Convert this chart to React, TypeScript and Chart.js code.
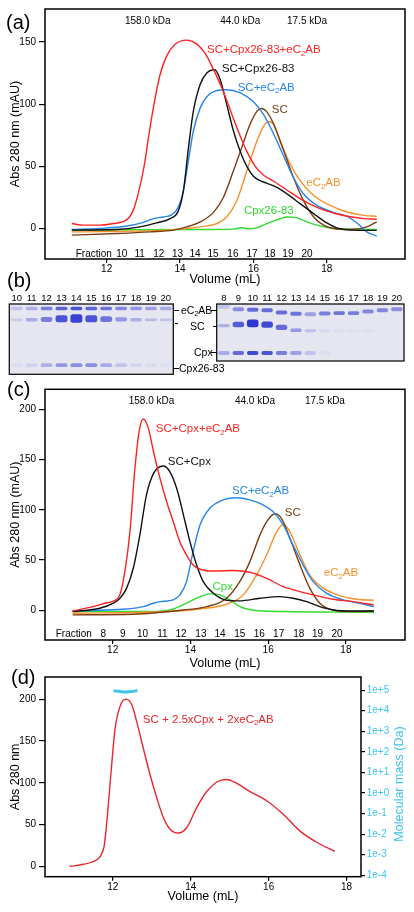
import React, { useEffect, useRef } from "react";
import { Chart, registerables } from "chart.js";

Chart.register(...registerables);

const FONT = '"Liberation Sans", Arial, Helvetica, sans-serif';

const RED = "#ff2222";
const BLACK = "#111111";
const BLUE = "#2585ea";
const BROWN = "#7d3c12";
const ORANGE = "#f8912a";
const GREEN = "#2fdc2f";
const SKY = "#3fc4ee";
const D_RED = "#e8262b";

// ---------------- Panel (a) data ----------------
const aVolumeTicks = [12, 14, 16, 18];
const aAbsTicks = [0, 50, 100, 150];
const aKdaLabels = ["158.0 kDa", "44.0 kDa", "17.5 kDa"];
const aKdaVol = [13.12, 15.64, 17.46];
const aFractions = ["10", "11", "12", "13", "14", "15", "16", "17", "18", "19", "20"];
const aFractionVol = [12.41, 12.9, 13.42, 13.93, 14.41, 14.9, 15.44, 15.96, 16.45, 16.94, 17.46];
const aSeriesNames = ["SC+Cpx26-83+eC_2AB", "SC+Cpx26-83", "SC+eC_2AB", "SC", "eC_2AB", "Cpx26-83"];
const aLabelVol = [14.735, 15.14, 15.57, 16.5, 17.44, 15.74];
const aLabelAbs = [143.5, 128.4, 113.5, 95.7, 36.4, 14];

const aRed: [number, number][] = [
  [11.05, 4], [11.36, 2.7], [11.82, 2.7], [12.18, 4], [12.45, 5.5], [12.6, 8.5], [12.73, 15], [12.86, 28],
  [13.02, 50], [13.15, 75], [13.29, 100], [13.45, 123], [13.64, 139], [13.86, 148], [14.18, 151.5],
  [14.45, 148.5], [14.68, 141], [14.91, 128], [15.14, 113], [15.36, 96], [15.59, 78], [15.82, 62],
  [16.05, 50], [16.27, 43], [16.55, 38], [16.91, 31], [17.27, 24], [17.73, 17], [18.18, 12.5],
  [18.64, 9.5], [19.0, 8], [19.36, 7.5],
];
const aBlack: [number, number][] = [
  [11.05, -1.3], [12.27, -0.8], [12.91, 1.3], [13.36, 4.5], [13.73, 8], [13.95, 14], [14.09, 30],
  [14.23, 65], [14.36, 94], [14.55, 116], [14.73, 125], [14.94, 127.6], [15.09, 120], [15.27, 100],
  [15.45, 79], [15.64, 62], [15.82, 50], [16.0, 42], [16.18, 38.5], [16.36, 36.5], [16.64, 33],
  [17.0, 26], [17.27, 20], [17.64, 12], [18.0, 4.5], [18.27, 0.5], [18.64, -1.3], [19.36, -1.5],
];
const aBlue: [number, number][] = [
  [11.05, -0.8], [11.82, 0], [12.55, 2], [13.0, 5], [13.27, 8], [13.55, 9.3], [13.77, 11], [13.95, 17],
  [14.09, 30], [14.23, 55], [14.36, 78], [14.55, 97], [14.73, 106], [14.95, 110.5], [15.27, 111.6],
  [15.64, 109], [16.0, 102], [16.27, 92], [16.55, 76], [16.82, 58.5], [17.09, 41], [17.36, 28],
  [17.73, 18.6], [18.18, 13], [18.55, 9.8], [18.82, 4.5], [19.09, -2.7], [19.36, -6],
];
const aBrown: [number, number][] = [
  [11.05, -5.3], [12.27, -4], [13.18, -2.7], [13.82, -1.3], [14.18, 1.3], [14.55, 5.3], [14.91, 13],
  [15.18, 25], [15.45, 46], [15.68, 65], [15.91, 84], [16.09, 94], [16.21, 96.5], [16.36, 94],
  [16.55, 84], [16.82, 63], [17.09, 41], [17.36, 22.6], [17.64, 9.3], [17.91, 2.7], [18.18, 0],
  [18.64, -0.8], [19.09, 1.3], [19.36, 5.3],
];
const aOrange: [number, number][] = [
  [11.05, -2.7], [13.64, -1.3], [14.55, 1.3], [15.0, 4], [15.27, 9.3], [15.55, 22.6], [15.82, 46.5],
  [16.09, 70], [16.27, 82], [16.41, 86], [16.55, 83.7], [16.73, 70], [17.0, 52], [17.27, 38.5],
  [17.64, 26.6], [18.09, 18.6], [18.55, 13.3], [19.0, 10.6], [19.36, 9.8],
];
const aGreen: [number, number][] = [
  [11.05, -1.3], [12.73, -1], [14.55, -0.8], [15.45, -0.5], [15.68, 0.6], [15.86, -0.2], [16.09, 0.5],
  [16.36, 4], [16.64, 7], [16.91, 9.3], [17.14, 9], [17.36, 6.5], [17.73, 2.7], [18.18, 0], [19.36, -0.8],
];

// ---------------- Panel (b) gel data ----------------
const gel1Lanes = ["10", "11", "12", "13", "14", "15", "16", "17", "18", "19", "20"];
const gel1EcPos = [6.5, 6.5, 6.5, 6.5, 6.5, 6.5, 6.5, 6.5, 6.5, 6.5, 6.5];
const gel1EcInt = [0.2, 0.3, 0.6, 0.75, 0.85, 0.75, 0.65, 0.55, 0.45, 0.4, 0.35];
const gel1ScPos = [22.5, 22.5, 22, 21, 20.5, 21, 21.5, 22, 22.5, 22.5, 22.5];
const gel1ScSize = [4, 5, 7, 10, 12, 10, 8, 6, 5, 4, 4];
const gel1ScInt = [0.15, 0.35, 0.6, 0.85, 0.95, 0.85, 0.65, 0.45, 0.3, 0.25, 0.2];
const gel1CpPos = [87, 87, 87, 87, 87, 87, 87, 87, 87, 87, 87];
const gel1CpInt = [0.05, 0.12, 0.3, 0.45, 0.5, 0.5, 0.35, 0.2, 0.1, 0.06, 0.03];

const gel2Lanes = ["8", "9", "10", "11", "12", "13", "14", "15", "16", "17", "18", "19", "20"];
const gel2EcPos = [5, 9, 10, 11, 15, 17, 18, 16.5, 16, 16, 13, 11, 9];
const gel2EcInt = [0.2, 0.5, 0.7, 0.7, 0.7, 0.65, 0.4, 0.6, 0.65, 0.6, 0.55, 0.55, 0.5];
const gel2ScPos = [38, 36, 34, 36, 41, 46, 47, 47, 47, 47, 47, 47, 47];
const gel2ScSize = [6, 10, 14, 11, 9, 6, 6, 5, 5, 5, 5, 5, 5];
const gel2ScInt = [0.3, 0.8, 1.0, 0.9, 0.7, 0.45, 0.2, 0.08, 0.05, 0.04, 0.03, 0, 0];
const gel2CpPos = [86, 86, 86, 86, 86, 86, 86, 86, 86, 86, 86, 86, 86];
const gel2CpInt = [0.35, 0.7, 0.9, 0.85, 0.6, 0.4, 0.2, 0.05, 0, 0, 0, 0, 0];

// ---------------- Panel (c) data ----------------
const cVolumeTicks = [12, 14, 16, 18];
const cAbsTicks = [0, 50, 100, 150, 200];
const cKdaVol = [13.0, 15.66, 17.46];
const cFractions = ["8", "9", "10", "11", "12", "13", "14", "15", "16", "17", "18", "19", "20"];
const cFractionVol = [11.76, 12.26, 12.77, 13.28, 13.76, 14.27, 14.76, 15.27, 15.77, 16.27, 16.79, 17.27, 17.77];
const cSeriesNames = ["SC+Cpx+eC_2AB", "SC+Cpx", "SC+eC_2AB", "SC", "eC_2AB", "Cpx"];
const cLabelVol = [13.11, 13.42, 15.07, 16.43, 17.43, 14.57];
const cLabelAbs = [180.4, 147.9, 118.7, 97.1, 36.8, 22.9];

const cRed: [number, number][] = [
  [10.97, -0.7], [11.5, 3.6], [11.85, 7.5], [12.02, 9], [12.19, 16], [12.32, 40], [12.45, 80], [12.57, 140],
  [12.69, 180], [12.79, 190.4], [12.92, 181], [13.05, 158], [13.22, 131], [13.39, 108], [13.56, 88],
  [13.73, 68], [13.9, 55], [14.07, 45], [14.25, 40.8], [14.59, 39], [15.1, 39.5], [15.53, 37.8],
  [15.96, 31.8], [16.39, 23.5], [16.82, 18.6], [17.24, 14.6], [17.67, 11], [18.19, 8.6], [18.72, 5.3],
];
const cBlack: [number, number][] = [
  [10.97, -1.3], [11.67, 2], [12.02, 7], [12.19, 12], [12.36, 22], [12.53, 41.8], [12.7, 75], [12.87, 114.8],
  [13.05, 136], [13.3, 143.6], [13.47, 138], [13.65, 121], [13.82, 95], [13.99, 68], [14.16, 45],
  [14.33, 28.5], [14.59, 17], [14.93, 10], [15.27, 9.3], [15.79, 12], [16.3, 13.6], [16.64, 12],
  [16.99, 8.6], [17.33, 3.6], [17.67, 0.3], [18.19, -0.7], [18.72, -0.7],
];
const cBlue: [number, number][] = [
  [10.97, -0.7], [11.67, 0], [12.36, 1.3], [12.79, 3.6], [13.05, 7], [13.22, 8.6], [13.56, 10.3],
  [13.73, 15.3], [13.9, 28.5], [14.07, 58.4], [14.25, 85], [14.5, 101.5], [14.84, 109.8], [15.19, 112],
  [15.53, 109.8], [15.87, 104.8], [16.13, 98], [16.39, 85], [16.64, 65], [16.9, 45], [17.16, 28.5],
  [17.5, 17], [17.93, 10.3], [18.36, 7], [18.72, 3.6],
];
const cBrown: [number, number][] = [
  [10.97, -4.6], [12.53, -4], [13.82, 0.3], [14.42, 3.6], [14.93, 12], [15.27, 28.5], [15.53, 48.4],
  [15.79, 75], [15.96, 88], [16.17, 96], [16.34, 91.5], [16.56, 71.6], [16.82, 45], [17.07, 22],
  [17.33, 7], [17.67, 0.3], [18.19, -1.3], [18.72, -0.7],
];
const cOrange: [number, number][] = [
  [10.97, -3], [13.39, -1.3], [14.25, 1.3], [14.93, 6], [15.36, 15.3], [15.7, 35], [15.96, 55], [16.22, 78],
  [16.39, 85.6], [16.56, 78], [16.82, 55], [17.07, 35], [17.42, 22], [17.84, 14.6], [18.27, 11], [18.72, 10],
];
const cGreen: [number, number][] = [
  [10.97, -1.3], [12.96, -1.3], [13.56, 1.3], [13.9, 7], [14.25, 13.6], [14.5, 16.3], [14.76, 15.3],
  [15.02, 10.3], [15.27, 3.6], [15.62, 0], [16.39, -1.3], [18.72, -2],
];

// ---------------- Panel (d) data ----------------
const dVolumeTicks = [12, 14, 16, 18];
const dAbsTicks = [0, 50, 100, 150, 200];
const dMassTicks = [1e-4, 1e-3, 1e-2, 1e-1, 1e0, 1e1, 1e2, 1e3, 1e4, 1e5];
const dSeriesName = "SC + 2.5xCpx + 2xeC_2AB";
const dLabelVol = 12.77;
const dLabelAbs = 175.6;
const dRed: [number, number][] = [
  [10.89, 0], [11.25, 2.7], [11.59, 8], [11.69, 13], [11.78, 25], [11.86, 60], [11.95, 110], [12.06, 165],
  [12.19, 192], [12.34, 200], [12.49, 193], [12.62, 172], [12.79, 140], [12.96, 109], [13.13, 81.8],
  [13.3, 58.3], [13.47, 44.6], [13.68, 40], [13.9, 46.6], [14.15, 70], [14.41, 89.6], [14.67, 101],
  [14.92, 104], [15.18, 99.4], [15.52, 89.6], [15.95, 78.6], [16.38, 62.2], [16.8, 42.6], [17.23, 29],
  [17.7, 18],
];
const dMass: [number, number][] = [[12.02, 93000], [12.19, 85000], [12.34, 81000], [12.49, 85000], [12.63, 96000]];

// ---------------- helpers ----------------
const TICK_SIZE = 10;

function drawRich(ctx: any, text: string, x: number, y: number, size: number, color: string, align: string, rot: number) {
  const parts = text.split(/_(\d)/);
  ctx.save();
  ctx.translate(x, y);
  if (rot) ctx.rotate((rot * Math.PI) / 180);
  ctx.fillStyle = color;
  ctx.textBaseline = "middle";
  ctx.textAlign = "left";
  const fN = `${size}px ${FONT}`;
  const fS = `${(size * 0.68).toFixed(1)}px ${FONT}`;
  let w = 0;
  parts.forEach((p, i) => {
    ctx.font = i % 2 ? fS : fN;
    w += ctx.measureText(p).width;
  });
  let cx = align === "center" ? -w / 2 : align === "right" ? -w : 0;
  parts.forEach((p, i) => {
    ctx.font = i % 2 ? fS : fN;
    ctx.fillText(p, cx, i % 2 ? size * 0.32 : 0);
    cx += ctx.measureText(p).width;
  });
  ctx.restore();
}

function makeAnnot(items: any[]) {
  return {
    id: "annot",
    afterDatasetsDraw(chart: any) {
      const ctx = chart.ctx;
      const a = chart.chartArea;
      for (const it of items) {
        let px: number;
        let py: number;
        if (it.mode === "px") {
          px = it.x;
          py = it.y;
        } else {
          px = chart.scales[it.xScale || "x"].getPixelForValue(it.x);
          if (it.mode === "top") py = a.top + it.y;
          else if (it.mode === "bottom") py = a.bottom + it.y;
          else py = chart.scales[it.yScale || "y"].getPixelForValue(it.y);
        }
        drawRich(ctx, it.text, px, py, it.size || 10, it.color || "#000", it.align || "left", it.rot || 0);
      }
    },
  };
}

const boxPlugin = {
  id: "box",
  afterDraw(chart: any) {
    const { ctx, chartArea: a } = chart;
    ctx.save();
    ctx.strokeStyle = "#000";
    ctx.lineWidth = 1.5;
    ctx.strokeRect(a.left, a.top, a.right - a.left, a.bottom - a.top);
    ctx.restore();
  },
};

const gelPlugin = {
  id: "gel",
  beforeDatasetsDraw(chart: any) {
    const { ctx, chartArea: a } = chart;
    ctx.save();
    ctx.fillStyle = "#e6e6f1";
    ctx.fillRect(a.left, a.top, a.right - a.left, a.bottom - a.top);
    ctx.restore();
    ctx.save();
    ctx.filter = "blur(0.7px)";
  },
  afterDatasetsDraw(chart: any) {
    chart.ctx.restore();
  },
  afterDraw(chart: any) {
    const { ctx, chartArea: a } = chart;
    ctx.save();
    ctx.strokeStyle = "#111";
    ctx.lineWidth = 1.3;
    ctx.strokeRect(a.left, a.top, a.right - a.left, a.bottom - a.top);
    ctx.restore();
  },
};

function line(pts: [number, number][], color: string, width = 1.4, yAxisID = "y") {
  return {
    data: pts.map(([x, y]) => ({ x, y })),
    borderColor: color,
    backgroundColor: color,
    borderWidth: width,
    pointRadius: 0,
    cubicInterpolationMode: "monotone",
    fill: false,
    yAxisID,
  };
}

function xAxis(min: number, max: number, ticks: number[], height: number, titlePad: number) {
  return {
    type: "linear",
    position: "bottom",
    min,
    max,
    afterBuildTicks: (s: any) => {
      s.ticks = ticks.map((v) => ({ value: v }));
    },
    afterFit: (s: any) => {
      s.height = height;
    },
    grid: { display: true, drawOnChartArea: false, drawTicks: true, tickLength: 4, color: "#000", lineWidth: 1.2 },
    border: { display: false },
    ticks: {
      color: "#000",
      font: { family: FONT, size: TICK_SIZE },
      padding: 0.5,
      maxRotation: 0,
      autoSkip: false,
      callback: (v: any) => String(v),
    },
    title: {
      display: true,
      text: "Volume (mL)",
      color: "#000",
      font: { family: FONT, size: 12.5 },
      padding: { top: 0, bottom: titlePad },
    },
  };
}

function yAxis(min: number, max: number, ticks: number[], title: string, titlePad: number) {
  return {
    type: "linear",
    position: "left",
    min,
    max,
    afterBuildTicks: (s: any) => {
      s.ticks = ticks.map((v) => ({ value: v }));
    },
    afterFit: (s: any) => {
      s.width = 45;
    },
    grid: { display: true, drawOnChartArea: false, drawTicks: true, tickLength: 6, color: "#000", lineWidth: 1.2 },
    border: { display: false },
    ticks: { color: "#000", font: { family: FONT, size: TICK_SIZE }, padding: 3, callback: (v: any) => String(v) },
    title: {
      display: true,
      text: title,
      color: "#000",
      font: { family: FONT, size: 12.5 },
      padding: { top: titlePad, bottom: 0 },
    },
  };
}

function lineConfig(datasets: any[], scales: any, padding: any, items: any[]) {
  return {
    type: "line",
    data: { datasets },
    options: {
      animation: false,
      responsive: false,
      devicePixelRatio: 1,
      layout: { padding },
      plugins: { legend: { display: false }, tooltip: { enabled: false } },
      scales,
    },
    plugins: [boxPlugin, makeAnnot(items)],
  };
}

function bandColor(a: number) {
  return `rgba(46, 56, 206, ${a})`;
}

function gelBand(pos: number[], size: number[], intens: number[]) {
  return {
    data: pos.map((p, i) => [p - size[i] / 2, p + size[i] / 2]),
    backgroundColor: intens.map(bandColor),
    borderWidth: 0,
    borderRadius: 2.5,
    borderSkipped: false,
    grouped: false,
    categoryPercentage: 0.8,
    barPercentage: 1,
  };
}

function gelConfig(lanes: string[], datasets: any[], padding: any) {
  return {
    type: "bar",
    data: { labels: lanes, datasets },
    options: {
      animation: false,
      responsive: false,
      devicePixelRatio: 1,
      layout: { padding },
      plugins: { legend: { display: false }, tooltip: { enabled: false } },
      scales: {
        x: {
          position: "top",
          grid: { display: false, drawTicks: false },
          border: { display: false },
          ticks: { color: "#000", font: { family: FONT, size: 9.5 }, padding: 0, maxRotation: 0, autoSkip: false },
          afterFit: (s: any) => {
            s.height = 15;
          },
        },
        y: { display: false, min: 0, max: 100, reverse: true },
      },
    },
    plugins: [gelPlugin],
  };
}

function commonItems(kdaVol: number[], kdaTop: number, fracWordVol: number, fractions: string[], fracVol: number[], fracOff: number) {
  const items: any[] = [];
  aKdaLabels.forEach((t, i) => items.push({ text: t, x: kdaVol[i], y: kdaTop, mode: "top", size: 10, align: "center" }));
  items.push({ text: "Fraction", x: fracWordVol, y: fracOff, mode: "bottom", size: 10, align: "center" });
  fractions.forEach((t, i) => items.push({ text: t, x: fracVol[i], y: fracOff, mode: "bottom", size: 10, align: "center" }));
  return items;
}

const SERIES_COLORS = [RED, BLACK, BLUE, BROWN, ORANGE, GREEN];

function buildA() {
  const items = commonItems(aKdaVol, 12, 11.65, aFractions, aFractionVol, -5);
  aSeriesNames.forEach((n, i) =>
    items.push({ text: n, x: aLabelVol[i], y: aLabelAbs[i], size: 11.5, color: SERIES_COLORS[i], align: "left" })
  );
  return lineConfig(
    [line(aRed, RED), line(aBlack, BLACK), line(aBlue, BLUE), line(aBrown, BROWN), line(aOrange, ORANGE), line(aGreen, GREEN)],
    { x: xAxis(10.32, 20.13, aVolumeTicks, 31, 2.5), y: yAxis(-24.5, 176.5, aAbsTicks, "Abs 280 nm (mAU)", 8.5) },
    { left: 0, right: 9, top: 7, bottom: 0 },
    items
  );
}

function buildC() {
  const items = commonItems(cKdaVol, 12.4, 11.0, cFractions, cFractionVol, -6);
  cSeriesNames.forEach((n, i) =>
    items.push({ text: n, x: cLabelVol[i], y: cLabelAbs[i], size: 11.5, color: SERIES_COLORS[i], align: "left" })
  );
  return lineConfig(
    [line(cRed, RED), line(cBlack, BLACK), line(cBlue, BLUE), line(cBrown, BROWN), line(cOrange, ORANGE), line(cGreen, GREEN)],
    { x: xAxis(10.26, 19.52, cVolumeTicks, 33, 1.5), y: yAxis(-29.6, 219.9, cAbsTicks, "Abs 280 nm (mAU)", 8.5) },
    { left: 0, right: 9, top: 14.3, bottom: 0 },
    items
  );
}

function fmtExp(v: number) {
  const e = Math.round(Math.log10(v));
  return "1e" + (e >= 0 ? "+" : "-") + Math.abs(e);
}

function buildD() {
  const items = [
    { text: dSeriesName, x: dLabelVol, y: dLabelAbs, size: 11.5, color: D_RED, align: "left" },
    { text: "Molecular mass (Da)", x: 400, y: 116, mode: "px", size: 12.5, color: SKY, align: "center", rot: -90 },
  ];
  const y2 = {
    type: "logarithmic",
    position: "right",
    min: 8.57e-5,
    max: 4.35e5,
    afterBuildTicks: (s: any) => {
      s.ticks = dMassTicks.map((v) => ({ value: v }));
    },
    afterFit: (s: any) => {
      s.width = 53;
    },
    grid: { display: true, drawOnChartArea: false, drawTicks: true, tickLength: 4, color: "#000", lineWidth: 1.2 },
    border: { display: false },
    ticks: { color: SKY, font: { family: FONT, size: TICK_SIZE }, padding: 1.7, callback: (v: any) => fmtExp(Number(v)) },
  };
  return lineConfig(
    [line(dRed, D_RED, 1.4), line(dMass, SKY, 3, "y2")],
    {
      x: xAxis(10.26, 18.37, dVolumeTicks, 35.3, 7.5),
      y: yAxis(-12.2, 226.5, dAbsTicks, "Abs 280 nm", 8.5),
      y2,
    },
    { left: 0, right: 0, top: 5.3, bottom: 0 },
    items
  );
}

function buildGel1() {
  return gelConfig(
    gel1Lanes,
    [
      gelBand(gel1EcPos, gel1Lanes.map(() => 5), gel1EcInt),
      gelBand(gel1ScPos, gel1ScSize, gel1ScInt),
      gelBand(gel1CpPos, gel1Lanes.map(() => 5.5), gel1CpInt),
    ],
    { left: 9.3, right: 6.7, top: 0, bottom: 4.7 }
  );
}

function buildGel2() {
  return gelConfig(
    gel2Lanes,
    [
      gelBand(gel2EcPos, gel2Lanes.map(() => 7), gel2EcInt),
      gelBand(gel2ScPos, gel2ScSize, gel2ScInt),
      gelBand(gel2CpPos, gel2Lanes.map(() => 7), gel2CpInt),
    ],
    { left: 6.7, right: 10, top: 0, bottom: 4 }
  );
}

function ChartCanvas({ left, top, width, height, build }: any) {
  const ref = useRef<HTMLCanvasElement>(null);
  useEffect(() => {
    const chart = new Chart(ref.current as any, build() as any);
    return () => chart.destroy();
  }, []);
  return (
    <canvas
      ref={ref}
      width={width}
      height={height}
      style={{ position: "absolute", left, top, width, height }}
    />
  );
}

function Txt({ x, y, children, size = 10.5, color = "#000" }: any) {
  return (
    <div
      style={{
        position: "absolute",
        left: x,
        top: y - size * 0.6,
        fontSize: size,
        lineHeight: `${size * 1.2}px`,
        color,
        whiteSpace: "nowrap",
        fontFamily: FONT,
      }}
    >
      {children}
    </div>
  );
}

function Dash({ x1, x2, y }: any) {
  return <div style={{ position: "absolute", left: x1, top: y - 0.5, width: x2 - x1, height: 1, background: "#000" }} />;
}

export default function App() {
  return (
    <div
      style={{
        position: "absolute",
        left: 0,
        top: 0,
        width: 414,
        height: 912,
        background: "#fff",
        overflow: "hidden",
        fontFamily: FONT,
      }}
    >
      <ChartCanvas left={0} top={0} width={414} height={290} build={buildA} />
      <ChartCanvas left={0} top={289} width={180} height={90} build={buildGel1} />
      <ChartCanvas left={210} top={289} width={204} height={76} build={buildGel2} />
      <ChartCanvas left={0} top={375} width={414} height={298} build={buildC} />
      <ChartCanvas left={0} top={668} width={414} height={244} build={buildD} />

      <Txt x={6} y={22} size={20}>(a)</Txt>
      <Txt x={7} y={280} size={20}>(b)</Txt>
      <Txt x={7} y={389} size={20}>(c)</Txt>
      <Txt x={11} y={677} size={20}>(d)</Txt>

      <Dash x1={173.5} x2={179} y={310} />
      <Txt x={181} y={310} size={10.5}>
        eC<sub style={{ fontSize: 7, verticalAlign: "-2px" }}>2</sub>AB
      </Txt>
      <Dash x1={211} x2={216.7} y={310} />

      <Dash x1={174.5} x2={178} y={323.5} />
      <Txt x={190} y={326.7} size={10.5}>SC</Txt>
      <Dash x1={212.5} x2={216.7} y={326.7} />

      <Txt x={194} y={352.5} size={10.5}>Cpx</Txt>
      <Dash x1={211} x2={216.7} y={352.5} />

      <Dash x1={173.3} x2={179} y={368.3} />
      <Txt x={179} y={368.3} size={10.5}>Cpx26-83</Txt>
    </div>
  );
}
